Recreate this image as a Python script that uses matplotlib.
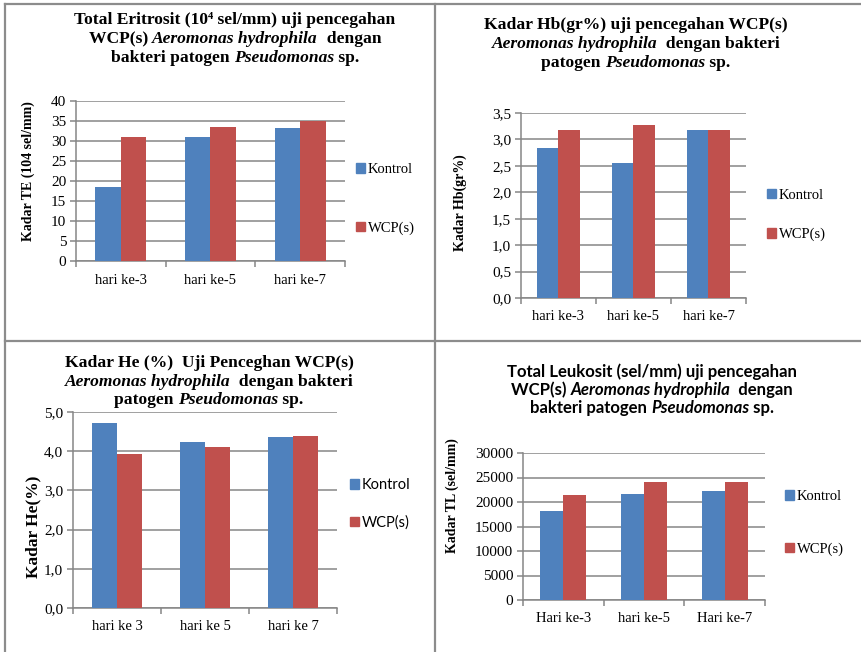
import numpy as np
import matplotlib
matplotlib.use("Agg")
import matplotlib.pyplot as plt
from matplotlib.lines import Line2D
from matplotlib.patches import Patch
from matplotlib.ticker import FuncFormatter

# ---- data ----
seri = ["Kontrol", "WCP(s)"]

hari_te = ["hari ke-3", "hari ke-5", "hari ke-7"]
te_kontrol = [18.5, 31.1, 33.2]
te_wcp = [31.1, 33.4, 35.1]

hari_hb = ["hari ke-3", "hari ke-5", "hari ke-7"]
hb_kontrol = [2.83, 2.56, 3.17]
hb_wcp = [3.17, 3.27, 3.17]

hari_he = ["hari ke 3", "hari ke 5", "hari ke 7"]
he_kontrol = [4.73, 4.23, 4.37]
he_wcp = [3.93, 4.10, 4.40]

hari_tl = ["Hari ke-3", "hari ke-5", "Hari ke-7"]
tl_kontrol = [18200, 21600, 22200]
tl_wcp = [21400, 24100, 24100]

BIRU = "#4F81BD"
MERAH = "#C0504D"
GRID = "#868686"
SERIF = "Liberation Serif"
SANS = "Lato"

W, H = 862, 652
fig = plt.figure(figsize=(W / 100, H / 100), dpi=100)


def px_ax(l, t, r, b):
    return fig.add_axes([l / W, 1 - b / H, (r - l) / W, (b - t) / H])


def judul(xc, ys, baris, size, family):
    """baris: list of lists of (teks, italic)"""
    renderer = fig.canvas.get_renderer()
    for y, bagian in zip(ys, baris):
        objs = []
        for teks, it in bagian:
            t = fig.text(0, 1 - y / H, teks, fontsize=size, fontweight="bold",
                         style="italic" if it else "normal", family=family,
                         va="center", ha="left")
            objs.append(t)
        lebar = [o.get_window_extent(renderer).width for o in objs]
        x = xc - sum(lebar) / 2
        for o, w in zip(objs, lebar):
            o.set_x(x / W)
            x += w


def grafik(kotak, kategori, k, w, ylim, ystep, fmt, ylabel, ylab_pos, ylab_size,
           leg_pos, leg_space, leg_family, tick_family=SERIF):
    ax = px_ax(*kotak)
    x = np.arange(len(kategori))
    lebar = 0.285
    ax.bar(x - lebar / 2, k, lebar, color=BIRU, zorder=3)
    ax.bar(x + lebar / 2, w, lebar, color=MERAH, zorder=3)
    ax.set_xlim(-0.5, len(kategori) - 0.5)
    ax.set_ylim(*ylim)
    ax.set_yticks(np.arange(ylim[0], ylim[1] + ystep / 2, ystep))
    ax.yaxis.set_major_formatter(FuncFormatter(fmt))
    ax.yaxis.grid(True, color=GRID, lw=1.1, zorder=0)
    ax.set_xticks(np.arange(-0.5, len(kategori), 1.0))
    ax.set_xticklabels([])
    ax.set_xticks(x, minor=True)
    ax.set_xticklabels(kategori, minor=True, family=SERIF, fontsize=10.5)
    ax.tick_params(axis="x", which="major", length=4, color=GRID, width=1.1)
    ax.tick_params(axis="x", which="minor", length=0, pad=9)
    ax.tick_params(axis="y", length=4, color=GRID, width=1.1, labelsize=11, pad=3)
    for lbl in ax.get_yticklabels():
        lbl.set_family(tick_family)
    for s in ["top", "right"]:
        ax.spines[s].set_visible(False)
    for s in ["left", "bottom"]:
        ax.spines[s].set_color(GRID)
        ax.spines[s].set_linewidth(1.1)
    fig.text(ylab_pos[0] / W, 1 - ylab_pos[1] / H, ylabel, rotation=90,
             fontsize=ylab_size, fontweight="bold", family=SERIF,
             ha="center", va="center")
    handles = [Patch(color=BIRU), Patch(color=MERAH)]
    ax.legend(handles, seri, loc="center left",
              bbox_to_anchor=(leg_pos[0] / W, 1 - leg_pos[1] / H),
              bbox_transform=fig.transFigure, frameon=False,
              handlelength=0.6, handleheight=0.6, handletextpad=0.2,
              labelspacing=leg_space, borderpad=0, borderaxespad=0,
              prop={"family": leg_family, "size": 10.5})
    return ax


def koma1(v, pos):
    return f"{v:.1f}".replace(".", ",")


def bulat(v, pos):
    return f"{v:.0f}"


# panel kiri atas
grafik((76, 101, 345, 261), hari_te, te_kontrol, te_wcp, (0, 40), 5, bulat,
       "Kadar TE (104 sel/mm)", (28, 171), 10, (356, 199), 3.1, SERIF)
judul(235, [20, 39, 58],
      [[("Total Eritrosit (10\u2074 sel/mm) uji pencegahan", False)],
       [("WCP(s) ", False), ("Aeromonas hydrophila", True), ("  dengan", False)],
       [("bakteri patogen ", False), ("Pseudomonas", True), (" sp.", False)]],
      12.6, SERIF)

# panel kanan atas
grafik((521, 113, 746, 298), hari_hb, hb_kontrol, hb_wcp, (0, 3.5), 0.5, koma1,
       "Kadar Hb(gr%)", (460, 203), 10, (767, 215), 1.8, SERIF)
judul(636, [25, 44, 63],
      [[("Kadar Hb(gr%) uji pencegahan WCP(s)", False)],
       [("Aeromonas hydrophila", True), ("  dengan bakteri", False)],
       [("patogen ", False), ("Pseudomonas", True), (" sp.", False)]],
      12.6, SERIF)

# panel kiri bawah
grafik((73, 412, 337, 608), hari_he, he_kontrol, he_wcp, (0, 5), 1, koma1,
       "Kadar He(%)", (33, 527), 12.5, (350, 504), 1.6, SANS)
judul(209, [363, 382, 400],
      [[("Kadar He (%)  Uji Penceghan WCP(s)", False)],
       [("Aeromonas hydrophila", True), ("  dengan bakteri", False)],
       [("patogen ", False), ("Pseudomonas", True), (" sp.", False)]],
      12.6, SERIF)

# panel kanan bawah
grafik((523, 453, 765, 600), hari_tl, tl_kontrol, tl_wcp, (0, 30000), 5000, bulat,
       "Kadar TL (sel/mm)", (452, 496), 10, (785, 523), 2.7, SERIF)
judul(652, [372, 390, 408],
      [[("Total Leukosit (sel/mm) uji pencegahan", False)],
       [("WCP(s) ", False), ("Aeromonas hydrophila", True), ("  dengan", False)],
       [("bakteri patogen ", False), ("Pseudomonas", True), (" sp.", False)]],
      12.1, SANS)

# garis pembatas panel
garis = [((5, 862), (4, 4)), ((5, 5), (4, 652)), ((435, 435), (4, 652)),
         ((5, 862), (341, 341))]
for xs, ys in garis:
    fig.add_artist(Line2D([v / W for v in xs], [1 - v / H for v in ys],
                          color="#8C8C8C", lw=1.6, transform=fig.transFigure))

fig.savefig("out.png", dpi=100)
